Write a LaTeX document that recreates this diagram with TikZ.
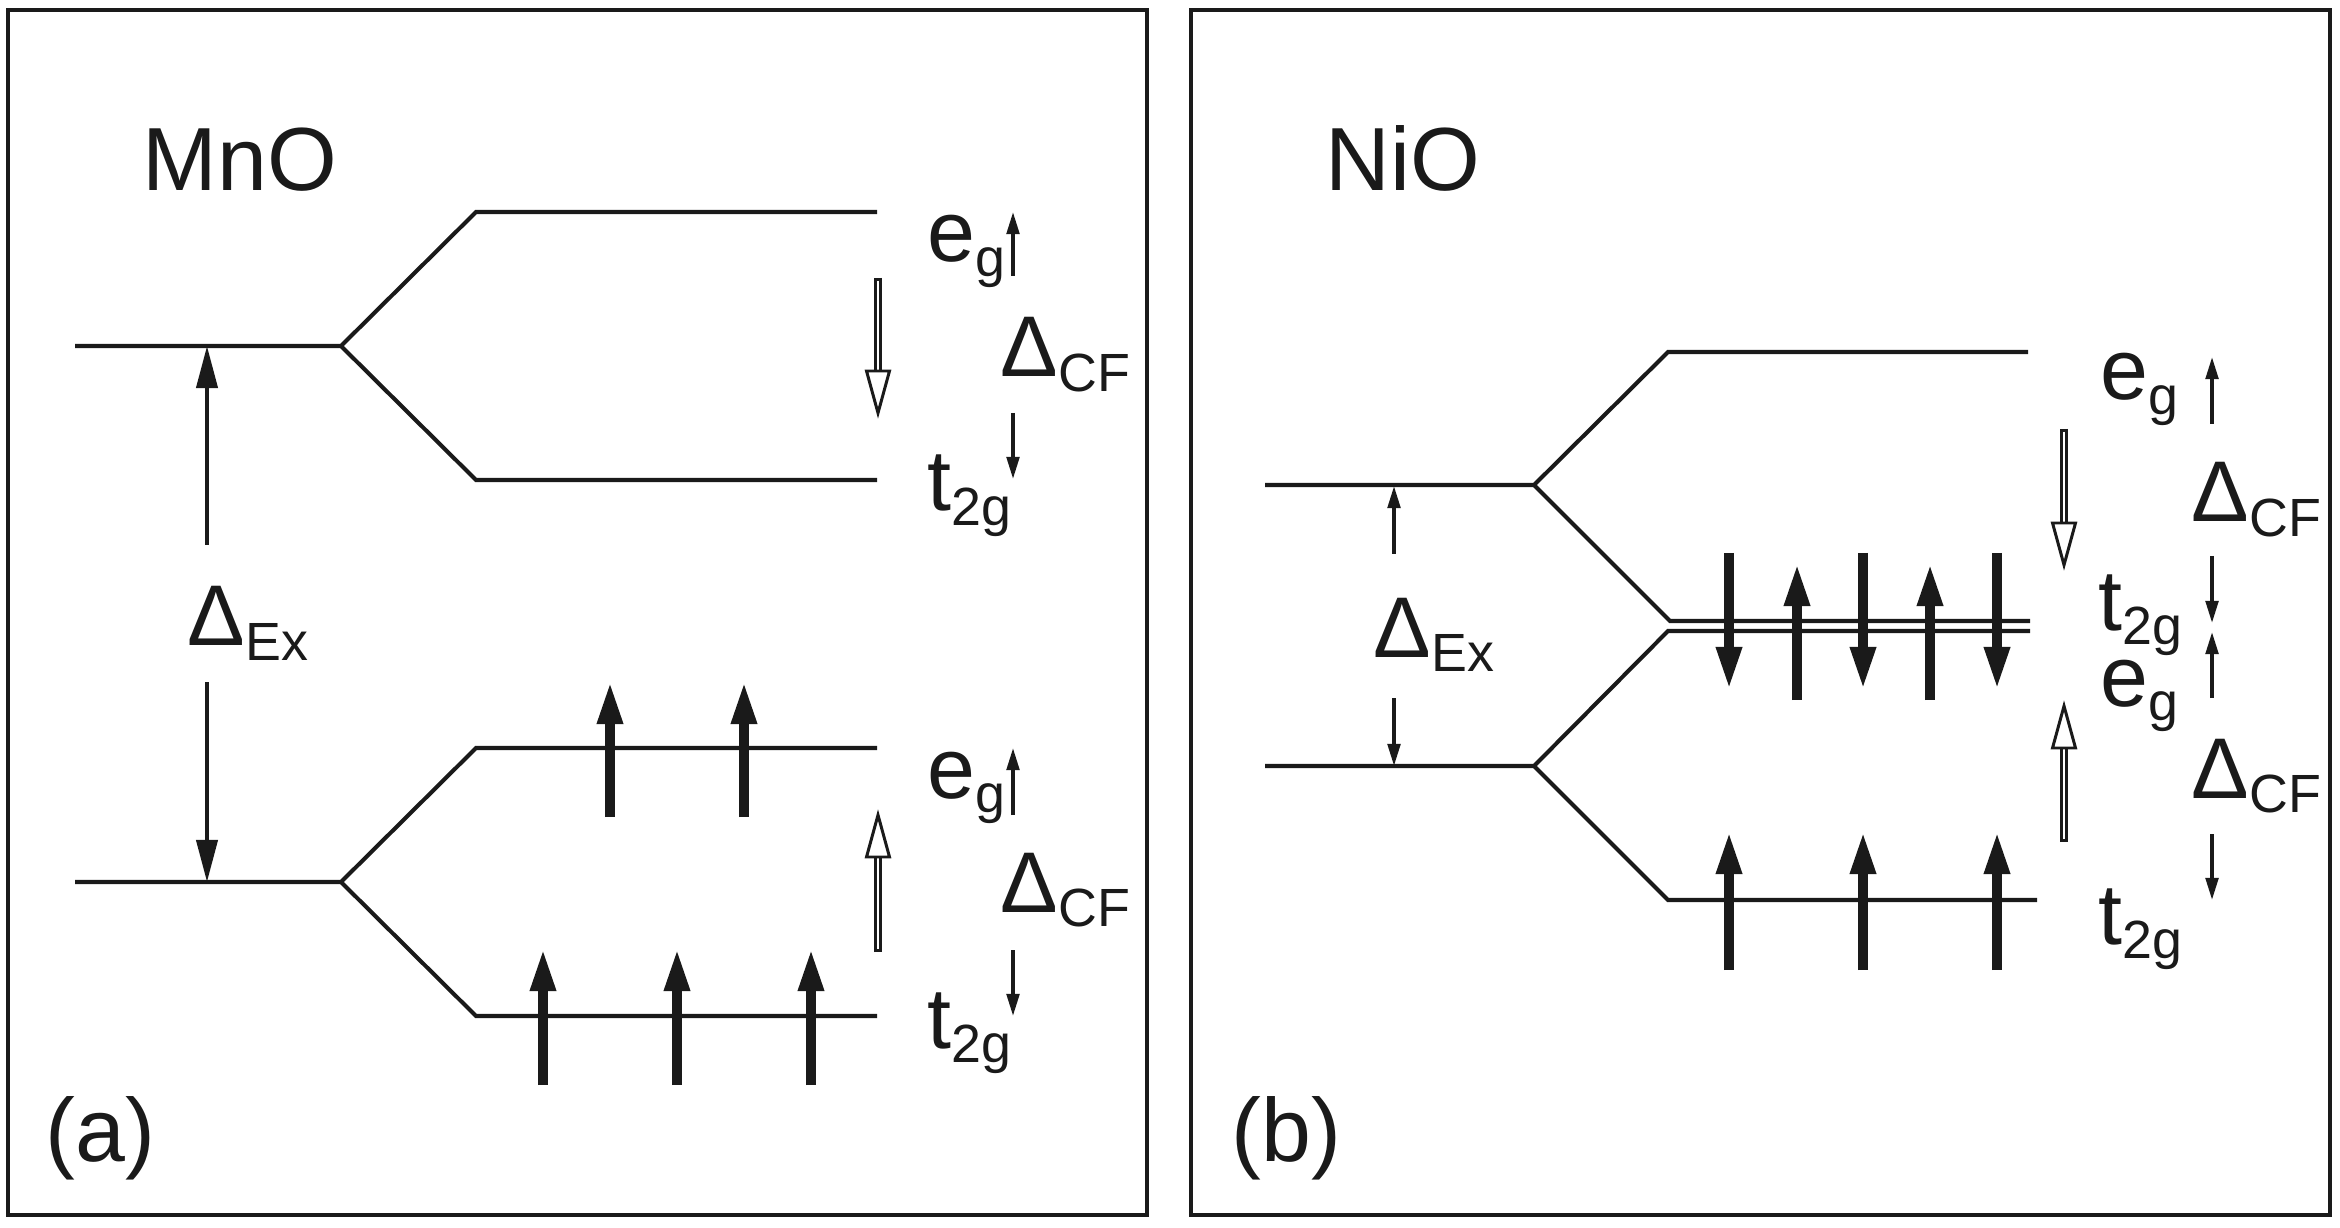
\documentclass[tikz,border=0pt]{standalone}
\usepackage{fontspec}
\setmainfont{Liberation Sans}
\usetikzlibrary{arrows.meta}
\definecolor{levelInk}{HTML}{1A1A1A}
\tikzset{
  every picture/.style={font=\fontsize{24.5}{28}\selectfont, text=levelInk},
  panel frame/.style={draw=levelInk, line width=1.2pt},
  level line/.style={draw=levelInk, line width=1.15pt, line join=miter},
  spin arrow/.style={-{Triangle[length=4.2mm,width=2.4mm]}, draw=levelInk, line width=2.6pt},
  gap arrow/.style={-{Triangle[length=2.2mm,width=1.25mm]}, draw=levelInk, line width=1pt},
  ex arrow/.style={-{Triangle[length=4.2mm,width=2.1mm]}, draw=levelInk, line width=1.15pt},
  open shaft/.style={draw=levelInk, line width=2.4pt},
  open inner/.style={draw=white, line width=0.7pt},
  open head/.style={draw=levelInk, fill=white, line width=0.85pt, line join=miter},
  state label/.style={anchor=base west, inner sep=0pt},
  title label/.style={anchor=base west, inner sep=0pt, font=\fontsize{25.5}{30}\selectfont}
}
\newcommand{\sublab}[2]{#1\raisebox{-4pt}{\fontsize{15.3}{16}\selectfont #2}}
% hollow arrow: x, tail, neck, tip
\newcommand{\openarrow}[4]{%
  \draw[open shaft] (#1,#2) -- (#1,#3);
  \draw[open inner] (#1,{#2+3*sign(#3-#2)}) -- (#1,#3);
  \draw[open head] (#1-11.5,#3) -- (#1,#4) -- (#1+11.5,#3) -- cycle;
}

\begin{document}
\begin{tikzpicture}[x=0.01cm,y=-0.01cm]
  \useasboundingbox (0,0) rectangle (2340,1228);
  \draw[panel frame] (8,10) rectangle (1147,1215);
  \draw[panel frame] (1191,10) rectangle (2330,1215);

  % (a) MnO
  \node[title label] (mno) at (142,191) {MnO};
  \draw[level line] (75,346) -- (341,346) -- (476,212) -- (877,212);
  \draw[level line] (341,346) -- (476,480) -- (877,480);
  \draw[level line] (75,882) -- (341,882) -- (476,748) -- (877,748);
  \draw[level line] (341,882) -- (476,1016) -- (877,1016);
  \draw[ex arrow] (207,545) -- (207,346);
  \draw[ex arrow] (207,682) -- (207,882);
  \node[state label] (exA) at (187,646) {\sublab{Δ}{Ex}};
  \foreach \x in {610,744} \draw[spin arrow] (\x,817) -- (\x,682);
  \foreach \x in {543,677,811} \draw[spin arrow] (\x,1085) -- (\x,949);
  \openarrow{878}{278}{371}{413}
  \openarrow{878}{952}{857}{815}
  \draw[gap arrow] (1013,276) -- (1013,212);
  \draw[gap arrow] (1013,413) -- (1013,479);
  \draw[gap arrow] (1013,815) -- (1013,748);
  \draw[gap arrow] (1013,950) -- (1013,1016);
  \node[state label] (egA) at (927,262) {\sublab{e}{g}};
  \node[state label] (cfA) at (1000,377) {\sublab{Δ}{CF}};
  \node[state label] (tgA) at (927,511) {\sublab{t}{2g}};
  \node[state label] (egAl) at (927,798) {\sublab{e}{g}};
  \node[state label] (cfAl) at (1000,912) {\sublab{Δ}{CF}};
  \node[state label] (tgAl) at (927,1048) {\sublab{t}{2g}};
  \node[title label] (tagA) at (45,1161) {(a)};

  % (b) NiO
  \node[title label] (nio) at (1325,191) {NiO};
  \draw[level line] (1265,485) -- (1534,485) -- (1668,352) -- (2028,352);
  \draw[level line] (1534,485) -- (1670,621) -- (2030,621);
  \draw[level line] (1265,766) -- (1534,766) -- (1668,631) -- (2030,631);
  \draw[level line] (1534,766) -- (1668,900) -- (2037,900);
  \draw[gap arrow] (1394,554) -- (1394,486);
  \draw[gap arrow] (1394,698) -- (1394,766);
  \node[state label] (exB) at (1373,657) {\sublab{Δ}{Ex}};
  \foreach \x in {1729,1863,1997} \draw[spin arrow] (\x,553) -- (\x,689);
  \foreach \x in {1797,1930} \draw[spin arrow] (\x,700) -- (\x,564);
  \foreach \x in {1729,1863,1997} \draw[spin arrow] (\x,970) -- (\x,832);
  \openarrow{2064}{429}{523}{565}
  \openarrow{2064}{842}{748}{706}
  \draw[gap arrow] (2212,424) -- (2212,357);
  \draw[gap arrow] (2212,556) -- (2212,623);
  \draw[gap arrow] (2212,698) -- (2212,632);
  \draw[gap arrow] (2212,834) -- (2212,900);
  \node[state label] (egB) at (2100,400) {\sublab{e}{g}};
  \node[state label] (cfB) at (2191,522) {\sublab{Δ}{CF}};
  \node[state label] (tgB) at (2098,630) {\sublab{t}{2g}};
  \node[state label] (egBl) at (2100,706) {\sublab{e}{g}};
  \node[state label] (cfBl) at (2191,798) {\sublab{Δ}{CF}};
  \node[state label] (tgBl) at (2098,944) {\sublab{t}{2g}};
  \node[title label] (tagB) at (1231,1161) {(b)};
\end{tikzpicture}
\end{document}
